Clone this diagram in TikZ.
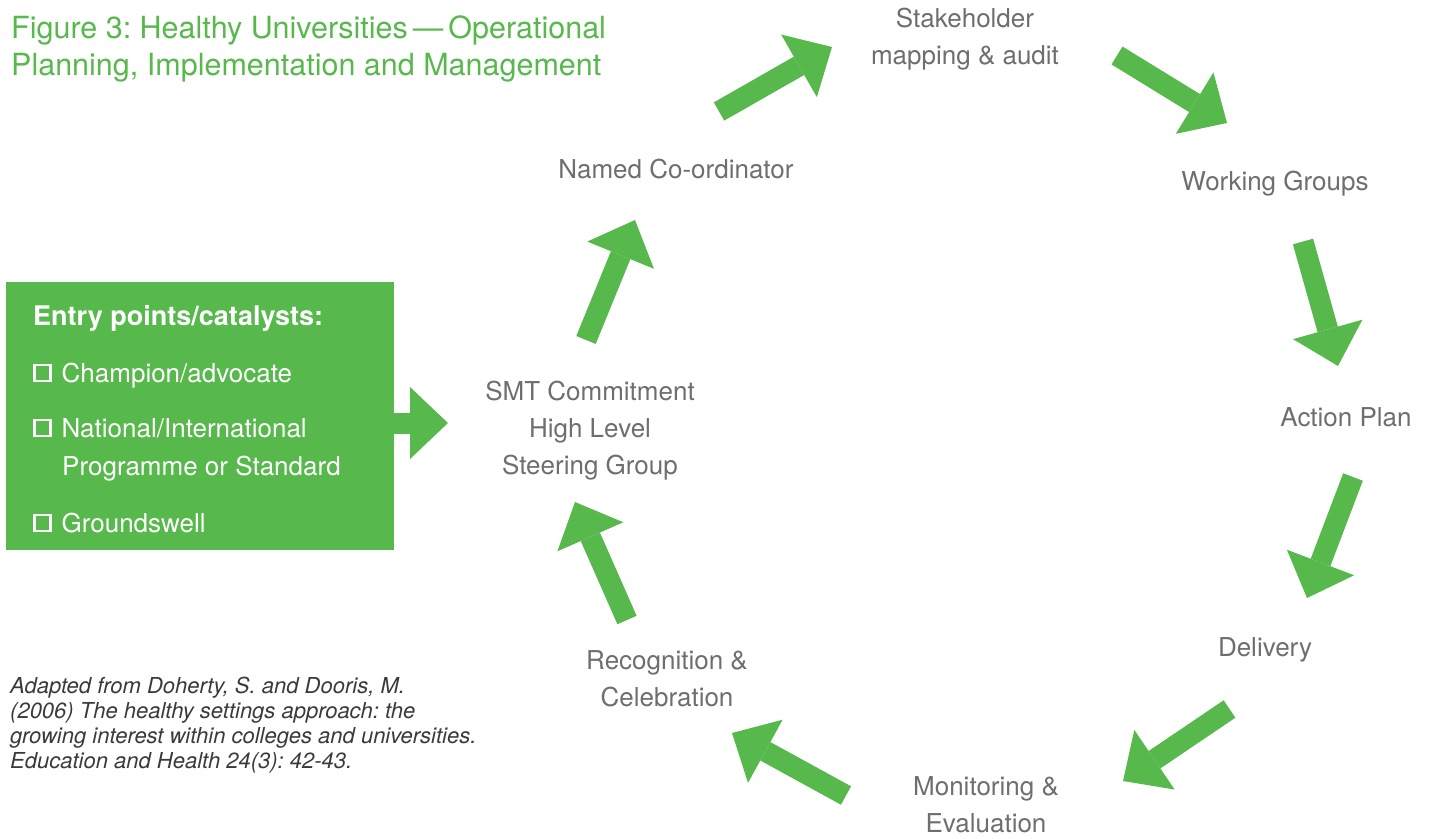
\documentclass[tikz,border=0pt]{standalone}
\usepackage{fontspec}
\setmainfont{TeX Gyre Heros}
\usetikzlibrary{arrows.meta}
\definecolor{hugreen}{HTML}{57B84C}
\definecolor{labelgrey}{HTML}{6D6E71}
\definecolor{citegrey}{HTML}{3A3A3A}
\newcommand{\tickbox}{\tikz[baseline=0pt]\draw[white, line width=2.4pt] (1.2pt,1.2pt) rectangle (17.2pt,17.2pt);}
\frenchspacing
\begin{document}
\begin{tikzpicture}[x=1pt, y=-1pt,
    every node/.style={inner sep=0pt},
    stage/.style={align=center, text=labelgrey, font=\fontsize{26}{37}\selectfont},
    boxtext/.style={anchor=base west, text=white, font=\fontsize{26}{37}\selectfont},
    flow/.style={draw=hugreen, line width=21pt, -{Triangle[width=72pt, length=38pt, line width=0pt]}}]
  \useasboundingbox (0,0) rectangle (1429,838);
  % Title and source
  \node[anchor=north west, align=left, text=hugreen, font=\fontsize{30.5}{37}\selectfont] (title) at (11,16)
    {Figure 3: Healthy Universities\,---\,Operational\\Planning, Implementation and Management};
  \node[anchor=west, align=left, text=citegrey, font=\itshape\fontsize{22}{24.8}\selectfont] (source) at (10,725)
    {Adapted from Doherty, S. and Dooris, M.\\(2006) The healthy settings approach: the\\growing interest within colleges and universities.\\Education and Health 24(3): 42-43.};
  % Entry box
  \node[fill=hugreen, minimum width=388pt, minimum height=268pt, anchor=north west] (entry) at (6,282) {};
  \node[boxtext, font=\bfseries\fontsize{27}{37}\selectfont] (entryhead) at (33,325) {Entry points/catalysts:};
  \node[boxtext] (champion) at (33,382) {\tickbox\hspace{10pt}Champion/advocate};
  \node[boxtext] (national) at (33,437) {\tickbox\hspace{10pt}National/International};
  \node[boxtext] (programme) at (62,475) {Programme or Standard};
  \node[boxtext] (groundswell) at (33,532) {\tickbox\hspace{10pt}Groundswell};
  % Cycle stages
  \node[stage] (smt) at (590,431) {SMT Commitment\\High Level\\Steering Group};
  \node[stage] (coord) at (676,169) {Named Co-ordinator};
  \node[stage] (stake) at (965,39) {Stakeholder\\mapping \& audit};
  \node[stage] (groups) at (1275,184) {Working Groups};
  \node[stage] (plan) at (1346,417) {Action Plan};
  \node[stage] (delivery) at (1265,650) {Delivery};
  \node[stage] (monitor) at (986,805) {Monitoring \&\\Evaluation};
  \node[stage] (recog) at (667,679) {Recognition \&\\Celebration};
  % Arrow ends
  \coordinate (entrytail) at (394,423);  \coordinate (entrytip) at (448,423);
  \coordinate (a1tail) at (586,340);     \coordinate (a1tip) at (635,220);
  \coordinate (a2tail) at (719,111.5);   \coordinate (a2tip) at (832,47);
  \coordinate (a3tail) at (1117,55.5);   \coordinate (a3tip) at (1227,123);
  \coordinate (a4tail) at (1303,241.5);  \coordinate (a4tip) at (1338,366);
  \coordinate (a5tail) at (1353,477);    \coordinate (a5tip) at (1307,598);
  \coordinate (a6tail) at (1229.5,709);  \coordinate (a6tip) at (1123,781);
  \coordinate (a7tail) at (846,795.5);   \coordinate (a7tip) at (732,733);
  \coordinate (a8tail) at (627,620);     \coordinate (a8tip) at (575,502);
  % Arrows
  \draw[flow] (entrytail) -- (entrytip);
  \foreach \i in {1,...,8}
    \draw[flow] (a\i tail) -- (a\i tip);
\end{tikzpicture}
\end{document}
